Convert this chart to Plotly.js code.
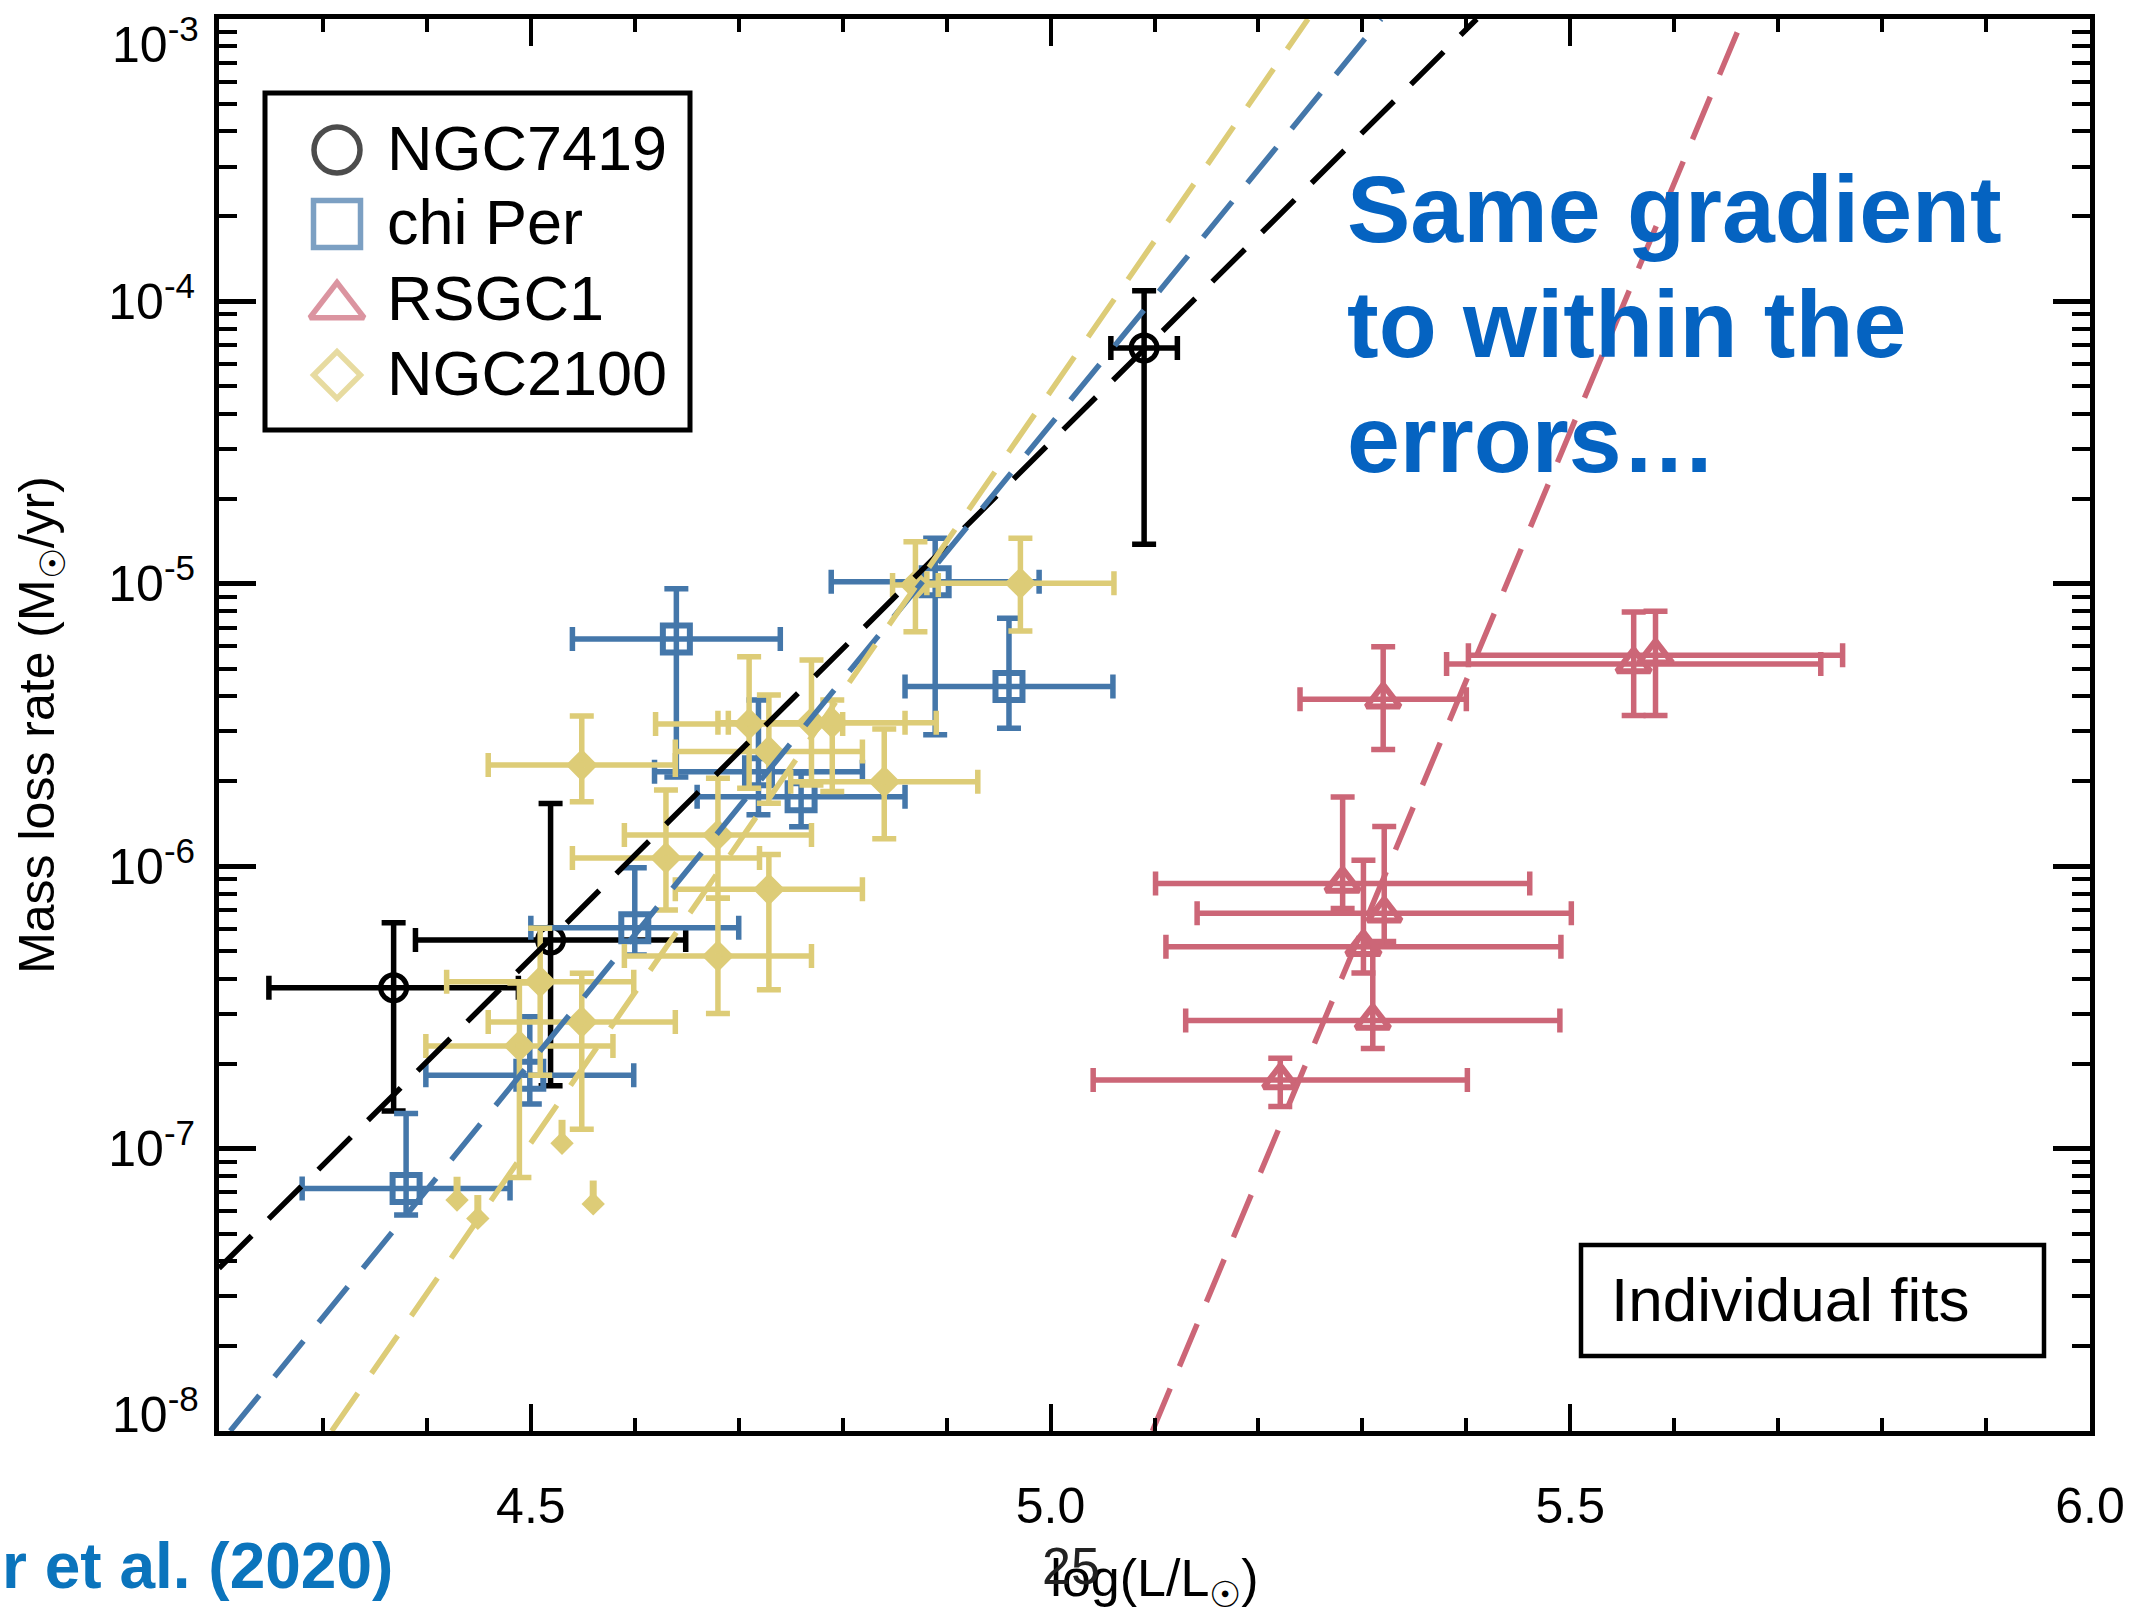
<!DOCTYPE html>
<html>
<head>
<meta charset="utf-8">
<script src="https://cdn.plot.ly/plotly-3.0.1.min.js"></script>
<style>
html,body{margin:0;padding:0;background:#ffffff;}
#chart{width:2149px;height:1615px;}
</style>
</head>
<body>
<div id="chart"></div>
<script>
// ---------------- DATA ----------------
const seriesNames = ['NGC7419', 'chi Per', 'RSGC1', 'NGC2100'];

// NGC7419 (black circles)
const ngc7419X      = [4.368, 4.519, 5.090];
const ngc7419XErr   = [0.12, 0.13, 0.032];
const ngc7419Y      = [3.71e-7, 5.48e-7, 6.84e-5];
const ngc7419YPlus  = [2.60e-7, 1.12e-6, 4.06e-5];
const ngc7419YMinus = [2.35e-7, 3.81e-7, 5.46e-5];

// chi Per (blue squares)
const chiPerX      = [4.640, 4.889, 4.960, 4.760, 4.719, 4.600, 4.380, 4.499];
const chiPerXErr   = [0.10, 0.10, 0.10, 0.10, 0.10, 0.10, 0.10, 0.10];
const chiPerY      = [6.38e-6, 1.016e-5, 4.33e-6, 1.76e-6, 2.16e-6, 6.05e-7, 7.23e-8, 1.82e-7];
const chiPerYPlus  = [3.22e-6, 4.34e-6, 3.22e-6, 3.8e-7, 1.72e-6, 3.83e-7, 6.07e-8, 1.11e-7];
const chiPerYMinus = [4.31e-6, 7.24e-6, 1.25e-6, 3.8e-7, 6.4e-7, 1.2e-7, 1.41e-8, 3.8e-8];

// RSGC1 (red triangles)
const rsgc1X      = [5.320, 5.561, 5.582, 5.281, 5.321, 5.301, 5.310, 5.221];
const rsgc1XErr   = [0.08, 0.18, 0.18, 0.18, 0.18, 0.19, 0.18, 0.18];
const rsgc1Y      = [3.90e-6, 5.20e-6, 5.58e-6, 8.69e-7, 6.81e-7, 5.19e-7, 2.84e-7, 1.75e-7];
const rsgc1YPlus  = [2.08e-6, 2.74e-6, 2.42e-6, 8.9e-7, 7.0e-7, 5.3e-7, 2.56e-7, 3.4e-8];
const rsgc1YMinus = [1.31e-6, 1.78e-6, 2.16e-6, 1.6e-7, 1.4e-7, 1.0e-7, 5.8e-8, 3.4e-8];

// NGC2100 (yellow diamonds)
const ngc2100X      = [4.870, 4.971, 4.710, 4.770, 4.790, 4.729, 4.840, 4.549, 4.680, 4.630, 4.729, 4.680, 4.509, 4.549, 4.489];
const ngc2100XErr   = [0.022, 0.09, 0.09, 0.09, 0.10, 0.09, 0.09, 0.09, 0.09, 0.09, 0.09, 0.09, 0.09, 0.09, 0.09];
const ngc2100Y      = [9.90e-6, 1.005e-5, 3.19e-6, 3.22e-6, 3.22e-6, 2.55e-6, 1.99e-6, 2.28e-6, 1.29e-6, 1.07e-6, 8.28e-7, 4.81e-7, 3.90e-7, 2.81e-7, 2.31e-7];
const ngc2100YPlus  = [4.2e-6, 4.45e-6, 2.33e-6, 2.15e-6, 6.6e-7, 1.49e-6, 1.07e-6, 1.12e-6, 7.6e-7, 7.9e-7, 2.72e-7, 2.89e-7, 2.13e-7, 1.37e-7, 1.55e-7];
const ngc2100YMinus = [3.14e-6, 3.25e-6, 1.30e-6, 1.28e-6, 1.38e-6, 8.8e-7, 7.4e-7, 5.9e-7, 5.2e-7, 3.7e-7, 4.63e-7, 1.80e-7, 2.08e-7, 1.64e-7, 1.52e-7];
// NGC2100 upper limits (arrow heads)
const ngc2100LimX = [4.530, 4.560, 4.429, 4.449];
const ngc2100LimY = [1.045e-7, 6.37e-8, 6.57e-8, 5.66e-8];

// Individual fits (dashed lines), two end points each
const fitNGC7419X = [4.200, 5.410];  const fitNGC7419Y = [3.77e-8, 1.0e-3];
const fitChiPerX  = [4.2108, 5.318]; const fitChiPerY  = [1.0e-8, 1.0e-3];
const fitRSGC1X   = [5.098, 5.666];  const fitRSGC1Y   = [1.0e-8, 1.0e-3];
const fitNGC2100X = [4.3084, 5.2477];const fitNGC2100Y = [1.0e-8, 1.0e-3];

// Axis ticks
const xRange = [4.2, 6.0];
const yTickVals = [1e-8, 1e-7, 1e-6, 1e-5, 1e-4, 1e-3];
const yTickText = ['10<sup>-8</sup>', '10<sup>-7</sup>', '10<sup>-6</sup>', '10<sup>-5</sup>', '10<sup>-4</sup>', '10<sup>-3</sup>'];

// Text
const xTitle = 'log(L/L<sub>☉</sub>)';
const yTitle = 'Mass loss rate (M<sub>☉</sub>/yr)';
const noteLines = ['Same gradient', 'to within the', 'errors…'];
const boxLabel = 'Individual fits';
const citation = 'r et al. (2020)';
const pageNumber = '25';

// ---------------- STYLE ----------------
const BLACK = '#000000', BLUE = '#4477AA', RED = '#CC6677', YELLOW = '#DDCC77';
const FONT = 'Liberation Sans, Arial, Helvetica, sans-serif';
const W = 2149, H = 1615;
const M = {l: 219, r: 59, t: 19, b: 184};
const plotW = W - M.l - M.r, plotH = H - M.t - M.b;
const px = X => (X - M.l) / plotW;           // page pixel -> paper x
const py = Y => (M.t + plotH - Y) / plotH;   // page pixel -> paper y

function pointTrace(name, x, xe, y, yp, ym, color, symbol, size, lw) {
  return {
    type: 'scatter', mode: 'markers', name: name, x: x, y: y,
    error_x: {type: 'data', array: xe, symmetric: true, color: color, thickness: 5.5, width: 12},
    error_y: {type: 'data', array: yp, arrayminus: ym, symmetric: false, color: color, thickness: 5.5, width: 12},
    marker: {symbol: symbol, size: size, color: color, line: {color: color, width: lw}},
    showlegend: false, cliponaxis: true
  };
}
function fitTrace(name, x, y, color) {
  return {type: 'scatter', mode: 'lines', name: name + ' fit', x: x, y: y,
    line: {color: color, width: 5.5, dash: '46px,24px'}, showlegend: false, hoverinfo: 'skip'};
}

const traces = [
  pointTrace(seriesNames[0], ngc7419X, ngc7419XErr, ngc7419Y, ngc7419YPlus, ngc7419YMinus, BLACK, 'circle-open', 26, 5),
  pointTrace(seriesNames[1], chiPerX, chiPerXErr, chiPerY, chiPerYPlus, chiPerYMinus, BLUE, 'square-open', 27, 6),
  pointTrace(seriesNames[2], rsgc1X, rsgc1XErr, rsgc1Y, rsgc1YPlus, rsgc1YMinus, RED, 'triangle-up-open', 29, 6),
  pointTrace(seriesNames[3], ngc2100X, ngc2100XErr, ngc2100Y, ngc2100YPlus, ngc2100YMinus, YELLOW, 'diamond-open', 16, 8),
  {type: 'scatter', mode: 'markers', name: seriesNames[3] + ' upper limits', x: ngc2100LimX, y: ngc2100LimY,
    marker: {symbol: 'diamond', size: 18, color: YELLOW, line: {width: 0}},
    error_y: {type: 'percent', symmetric: false, value: 21, valueminus: 0, width: 0, thickness: 7, color: YELLOW},
    showlegend: false},
  fitTrace(seriesNames[0], fitNGC7419X, fitNGC7419Y, BLACK),
  fitTrace(seriesNames[1], fitChiPerX, fitChiPerY, BLUE),
  fitTrace(seriesNames[3], fitNGC2100X, fitNGC2100Y, YELLOW),
  fitTrace(seriesNames[2], fitRSGC1X, fitRSGC1Y, RED)
];

// Hand-drawn legend (large symbols), on an invisible overlay axis in paper-like units
const legendRowsY = [150, 224, 300, 375];
const legendSymX = 337, legendTextX = 385;
const legendSymbols = ['circle-open', 'square-open', 'triangle-up-open', 'diamond-open'];
const legendColors = [BLACK, BLUE, RED, YELLOW];
const legendSizes = [46, 47, 47, 36];
const legendYOffset = [0, 0, 6, 0];
traces.push({
  type: 'scatter', mode: 'markers', xaxis: 'x2', yaxis: 'y2', name: 'legend symbols',
  x: legendRowsY.map(() => px(legendSymX)),
  y: legendRowsY.map((Y, i) => py(Y + legendYOffset[i])),
  marker: {symbol: legendSymbols, size: legendSizes, color: legendColors, line: {color: legendColors, width: 5.5}},
  showlegend: false, cliponaxis: false, hoverinfo: 'skip'
});

const annotations = [];
seriesNames.forEach((n, i) => annotations.push({
  xref: 'paper', yref: 'paper', x: px(legendTextX), y: py(legendRowsY[i] - 2), xanchor: 'left', yanchor: 'middle',
  text: n, showarrow: false, font: {family: FONT, size: 63, color: BLACK}
}));
const noteY = [209, 324, 439];
noteLines.forEach((t, i) => annotations.push({
  xref: 'paper', yref: 'paper', x: px(1345), y: py(noteY[i]), xanchor: 'left', yanchor: 'middle',
  text: '<b>' + t + '</b>', showarrow: false, font: {family: FONT, size: 95, color: '#0563C1'}
}));
annotations.push({xref: 'paper', yref: 'paper', x: px(1790), y: py(1299), xanchor: 'center', yanchor: 'middle',
  text: boxLabel, showarrow: false, font: {family: FONT, size: 62, color: BLACK}});
annotations.push({xref: 'paper', yref: 'paper', x: px(0), y: py(1566), xanchor: 'left', yanchor: 'middle',
  text: '<b>' + citation + '</b>', showarrow: false, font: {family: FONT, size: 64, color: '#0B74BC'}});
annotations.push({xref: 'paper', yref: 'paper', x: px(1071), y: py(1566), xanchor: 'center', yanchor: 'middle',
  text: pageNumber, showarrow: false, font: {family: 'Liberation Sans Narrow, ' + FONT, size: 52, color: '#222222'}});
// end tick labels of the y axis sit inside the frame in the reference
annotations.push({xref: 'paper', yref: 'paper', x: px(201), y: py(41), xanchor: 'right', yanchor: 'middle',
  text: yTickText[5], showarrow: false, font: {family: FONT, size: 50, color: BLACK}});
annotations.push({xref: 'paper', yref: 'paper', x: px(201), y: py(1411), xanchor: 'right', yanchor: 'middle',
  text: yTickText[0], showarrow: false, font: {family: FONT, size: 50, color: BLACK}});
const yTickShown = yTickText.map((t, i) => (i === 0 || i === 5) ? '' : t);

const shapes = [
  {type: 'rect', xref: 'paper', yref: 'paper', x0: px(265), x1: px(690), y0: py(430), y1: py(93),
    line: {color: BLACK, width: 5}, fillcolor: 'rgba(0,0,0,0)'},
  {type: 'rect', xref: 'paper', yref: 'paper', x0: px(1581), x1: px(2044), y0: py(1356), y1: py(1245),
    line: {color: BLACK, width: 4.5}, fillcolor: 'rgba(0,0,0,0)'}
];

const layout = {
  width: W, height: H,
  margin: M,
  paper_bgcolor: '#ffffff', plot_bgcolor: '#ffffff',
  font: {family: FONT, color: BLACK},
  showlegend: false,
  xaxis: {
    range: xRange, showline: true, linewidth: 5, linecolor: BLACK, mirror: 'ticks',
    ticks: 'inside', ticklen: 27, tickwidth: 4, tickcolor: BLACK,
    tick0: 0, dtick: 0.5, tickformat: '.1f', tickfont: {family: FONT, size: 50, color: BLACK},
    ticklabelstandoff: 27,
    minor: {ticks: 'inside', ticklen: 13, tickwidth: 4, tickcolor: BLACK, dtick: 0.1, tick0: 0, showgrid: false},
    showgrid: false, zeroline: false, automargin: false,
    title: {text: xTitle, font: {family: FONT, size: 52, color: BLACK}, standoff: 52}
  },
  yaxis: {
    type: 'log', range: [-8, -3], showline: true, linewidth: 5, linecolor: BLACK, mirror: 'ticks',
    ticks: 'inside', ticklen: 37, tickwidth: 5, tickcolor: BLACK,
    tickmode: 'array', tickvals: yTickVals, ticktext: yTickShown,
    tickfont: {family: FONT, size: 50, color: BLACK}, ticklabelstandoff: 9,
    minor: {ticks: 'inside', ticklen: 18, tickwidth: 4, tickcolor: BLACK, dtick: 'D1', showgrid: false},
    showgrid: false, zeroline: false, automargin: false,
    title: {text: yTitle, font: {family: FONT, size: 50, color: BLACK}, standoff: 39}
  },
  xaxis2: {overlaying: 'x', range: [0, 1], visible: false, fixedrange: true},
  yaxis2: {overlaying: 'y', range: [0, 1], visible: false, fixedrange: true},
  annotations: annotations,
  shapes: shapes
};

Plotly.newPlot('chart', traces, layout, {staticPlot: true, displayModeBar: false});
</script>
</body>
</html>
